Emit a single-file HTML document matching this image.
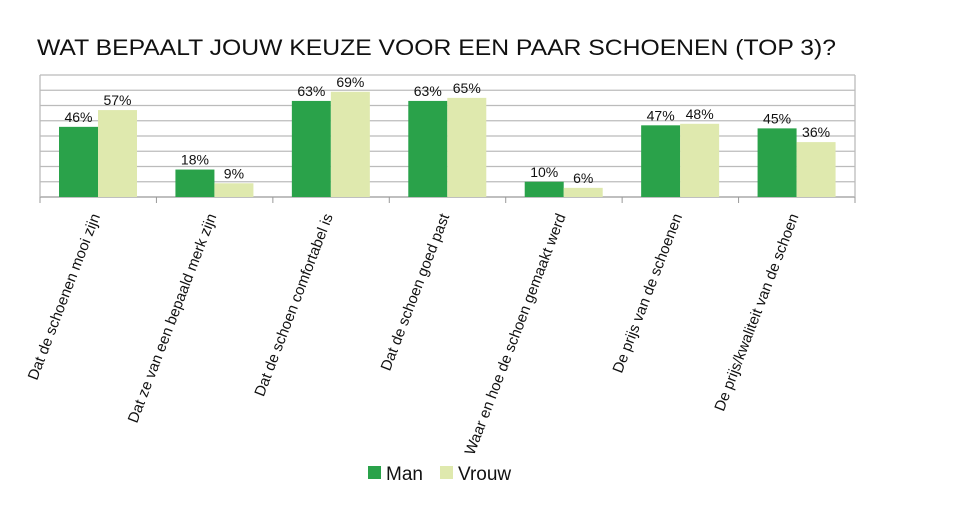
<!DOCTYPE html>
<html><head><meta charset="utf-8"><style>
body{margin:0;background:#fff;width:963px;height:511px;overflow:hidden;font-family:"Liberation Sans",Arial,sans-serif}
</style></head><body>
<svg id="chart" width="963" height="511" xmlns="http://www.w3.org/2000/svg" font-family="Liberation Sans, Arial, sans-serif">
<text x="37" y="55" font-size="21" textLength="799" lengthAdjust="spacingAndGlyphs" fill="#111" style="font-size:22.5px">WAT BEPAALT JOUW KEUZE VOOR EEN PAAR SCHOENEN (TOP 3)?</text>
<g id="grid"></g><g id="bars"></g><g id="labels"></g>
<g>
<rect x="368" y="466" width="13" height="13" fill="#2aa24a"/>
<text x="386" y="480" font-size="19" fill="#111">Man</text>
<rect x="440" y="466" width="13" height="13" fill="#dfe9ae"/>
<text x="458" y="480" font-size="19" fill="#111">Vrouw</text>
</g>
</svg>
<script>
const categories=["Dat de schoenen mooi zijn","Dat ze van een bepaald merk zijn","Dat de schoen comfortabel is","Dat de schoen goed past","Waar en hoe de schoen gemaakt werd","De prijs van de schoenen","De prijs/kwaliteit van de schoen"];
const man=[46,18,63,63,10,47,45];
const vrouw=[57,9,69,65,6,48,36];
const yTicks=[0,10,20,30,40,50,60,70,80];
const NS="http://www.w3.org/2000/svg";
const L=40,R=855,T=75,B=197,yMax=80;
const y=v=>B-(v/yMax)*(B-T);
const cw=(R-L)/categories.length;
const x=i=>L+i*cw;
function mk(tag,attrs,parent){const e=document.createElementNS(NS,tag);for(const k in attrs)e.setAttribute(k,attrs[k]);parent.appendChild(e);return e;}
const grid=document.getElementById('grid'),bars=document.getElementById('bars'),labels=document.getElementById('labels');
yTicks.forEach(t=>{const l=mk('line',{x1:L,x2:R,y1:y(t),y2:y(t),stroke:t===0?'#999':'#bbb','stroke-width':1.3},grid);

});
const la=mk('line',{x1:L,x2:L,y1:T,y2:B,stroke:'#bbb','stroke-width':1.3},grid);


const ra=mk('line',{x1:R,x2:R,y1:T,y2:B,stroke:'#bbb','stroke-width':1.3},grid);


for(let i=0;i<=categories.length;i++){const t=mk('line',{x1:x(i),x2:x(i),y1:B,y2:B+6,stroke:'#999'},grid);

}
const bw=39,off=19;
categories.forEach((c,i)=>{
 [[man[i],'#2aa24a',0,'man'],[vrouw[i],'#dfe9ae',bw,'vrouw']].forEach(([v,col,dx,s])=>{
  const bx=x(i)+off+dx;
  const r=mk('rect',{x:bx,y:y(v),width:bw,height:B-y(v),fill:col},bars);
  
  
  const t=mk('text',{x:bx+bw/2,y:y(v)-5,'text-anchor':'middle','font-size':14,fill:'#111'},bars);
  t.textContent=v+'%';
  
  
 });
 const cx=x(i)+cw/2+2,cy=216;
 const tl=mk('text',{x:cx,y:cy,'text-anchor':'end','font-size':15,fill:'#111',transform:`rotate(-69 ${cx} ${cy})`},labels);
 tl.textContent=c;
 
 
});
</script>
</body></html>
